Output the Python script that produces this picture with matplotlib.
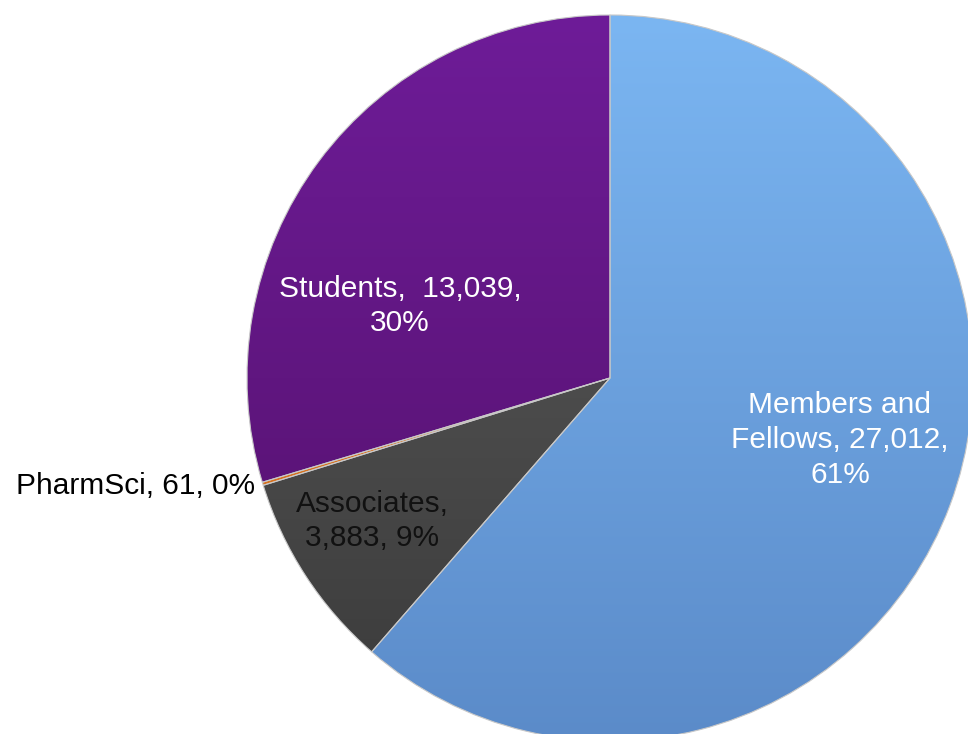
import numpy as np
import matplotlib.pyplot as plt
from matplotlib.colors import LinearSegmentedColormap

plt.rcParams['font.family'] = ['Liberation Sans', 'DejaVu Sans']

categories = ['Members and\nFellows', 'Associates', 'PharmSci', 'Students']
values = [27012, 3883, 61, 13039]
# (top colour, bottom colour) for each slice
colors = [('#7bb6f2', '#5b8bc9'), ('#5e5e5e', '#3a3a3a'),
          ('#f08a2a', '#c8641a'), ('#6e1c98', '#521068')]
text_colors = ['white', '#111111', 'black', 'white']

W, H = 968, 734
cx, cy, r = 610, 734 - 378, 363

fig = plt.figure(figsize=(W / 100, H / 100), dpi=100)
ax = fig.add_axes([0, 0, 1, 1])

wedges, _ = ax.pie(values, startangle=90, counterclock=False,
                   center=(cx, cy), radius=r, frame=True,
                   wedgeprops=dict(linewidth=0.8, edgecolor='#c8c8c8'))

grad = np.linspace(1, 0, 256).reshape(-1, 1)
for w, (top, bot) in zip(wedges, colors):
    w.set_facecolor('none')
    cmap = LinearSegmentedColormap.from_list('g', [bot, top])
    im = ax.imshow(grad, cmap=cmap, aspect='auto', origin='upper',
                   extent=(cx - r, cx + r, cy - r, cy + r), zorder=0.5)
    im.set_clip_path(w)

ax.set_xlim(0, W)
ax.set_ylim(0, H)
ax.set_aspect('equal')
ax.axis('off')

total = sum(values)
pct = [v / total * 100 for v in values]
labels = [f"Members and\nFellows, {values[0]:,},\n{pct[0]:.0f}%",
          f"Associates,\n{values[1]:,}, {pct[1]:.0f}%",
          f"PharmSci, {values[2]}, {pct[2]:.0f}%",
          f"Students,  {values[3]:,},\n{pct[3]:.0f}%"]

pos = [(840, H - 440, 'center'), (372, H - 521, 'center'),
       (255, H - 486, 'right'), (400, H - 306, 'center')]
for lab, (x, y, ha), tc in zip(labels, pos, text_colors):
    ax.text(x, y, lab, ha=ha, va='center', fontsize=21.5, color=tc,
            linespacing=1.3, zorder=5)

fig.savefig('out.png', dpi=100, facecolor='white')
